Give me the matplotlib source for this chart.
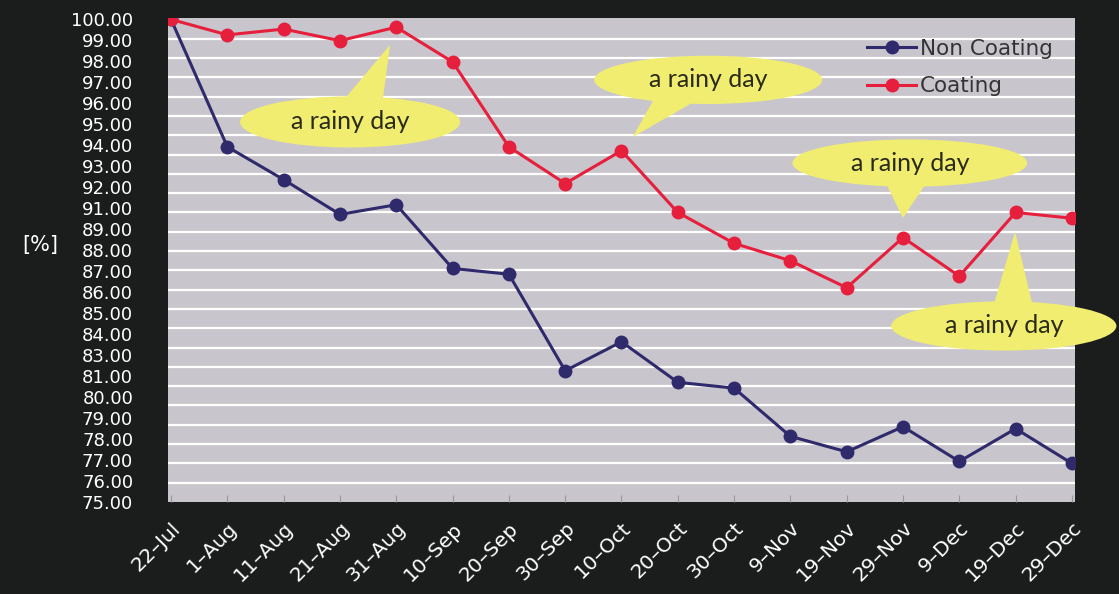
import numpy as np
import matplotlib
matplotlib.use("Agg")
import matplotlib.pyplot as plt
from matplotlib.patches import Ellipse, Polygon

# data
dates = ["22–Jul", "1–Aug", "11–Aug", "21–Aug", "31–Aug", "10–Sep", "20–Sep",
         "30–Sep", "10–Oct", "20–Oct", "30–Oct", "9–Nov", "19–Nov", "29–Nov",
         "9–Dec", "19–Dec", "29–Dec"]
non_coating = [100.0, 93.4, 91.7, 89.9, 90.4, 87.1, 86.8, 81.8, 83.3, 81.2,
               80.9, 78.4, 77.6, 78.9, 77.1, 78.8, 77.0]
coating = [100.0, 99.2, 99.5, 98.9, 99.6, 97.8, 93.4, 91.5, 93.2, 90.0,
           88.4, 87.5, 86.1, 88.7, 86.7, 90.0, 89.7]

# the tick labels of the original skip 90 and 82
ytick_labels = ["75.00", "76.00", "77.00", "78.00", "79.00", "80.00", "81.00",
                "83.00", "84.00", "85.00", "86.00", "87.00", "88.00", "89.00",
                "91.00", "92.00", "93.00", "94.00", "95.00", "96.00", "97.00",
                "98.00", "99.00", "100.00"]

note_text = "a rainy day"
# callouts: (centre x, centre y, width, height), tip, base left, base right
callouts = [
    ((3.18, 94.69, 3.91, 2.65), (3.89, 98.68), (3.0, 95.6), (3.75, 95.6)),
    ((9.54, 96.87, 4.05, 2.5), (8.20, 93.91), (8.6, 96.0), (9.39, 95.9)),
    ((13.12, 92.56, 4.17, 2.45), (13.0, 89.72), (12.68, 91.6), (13.43, 91.6)),
    ((14.79, 84.12, 4.0, 2.55), (14.99, 88.99), (14.6, 85.1), (15.31, 85.1)),
]

bg = "#1b1d1c"
face = "#c9c5cc"
blue = "#2e2a6c"
red = "#e61f3c"
yellow = "#f1ed70"

fig = plt.figure(figsize=(11.19, 5.94), dpi=100, facecolor=bg)
ax = fig.add_axes([0.1501, 0.1549, 0.8106, 0.814])
ax.set_facecolor(face)

x = np.arange(len(dates))
ax.plot(x, non_coating, color=blue, lw=2.2, marker="o", ms=9,
        label="Non Coating", zorder=3)
ax.plot(x, coating, color=red, lw=2.2, marker="o", ms=9,
        label="Coating", zorder=3)

ax.set_xlim(-0.055, len(dates) - 1 + 0.055)
ax.set_ylim(75, 100.05)

ax.set_yticks(np.linspace(75, 100, len(ytick_labels)))
ax.set_yticklabels(ytick_labels)
ax.set_yticks(np.arange(75, 101), minor=True)
ax.grid(which="minor", axis="y", color="white", lw=1.6, zorder=1)
ax.grid(which="major", visible=False)
ax.tick_params(axis="y", which="both", length=0, pad=25, colors="white",
               labelsize=13)

ax.set_xticks(x)
ax.set_xticklabels(dates, rotation=45, ha="right", rotation_mode="anchor")
ax.tick_params(axis="x", direction="in", length=5, color="#9a96a0",
               colors="white", labelsize=14.5, pad=12)
for lab in ax.get_xticklabels():
    lab.set_color("white")

for s in ax.spines.values():
    s.set_visible(False)

for (cx, cy, w, h), tip, b1, b2 in callouts:
    ax.add_patch(Ellipse((cx, cy), w, h, facecolor=yellow, edgecolor="none",
                         zorder=4, clip_on=False))
    ax.add_patch(Polygon([b1, tip, b2], closed=True, facecolor=yellow,
                         edgecolor="none", zorder=4, clip_on=False))
    ax.text(cx, cy, note_text, ha="center", va="center", fontsize=18,
            family="Lato", color="#2a2a18", zorder=5)

leg = ax.legend(loc="upper left", bbox_to_anchor=(0.7586, 0.98),
                frameon=False, fontsize=15.5, handlelength=2.3,
                handletextpad=0.15, labelspacing=0.8, borderpad=0)
for t in leg.get_texts():
    t.set_color("#333333")

fig.text(40 / 1119, 1 - 245 / 594, "[%]", color="white", fontsize=15,
         ha="center", va="center")

fig.savefig("out.png", dpi=100, facecolor=bg)
